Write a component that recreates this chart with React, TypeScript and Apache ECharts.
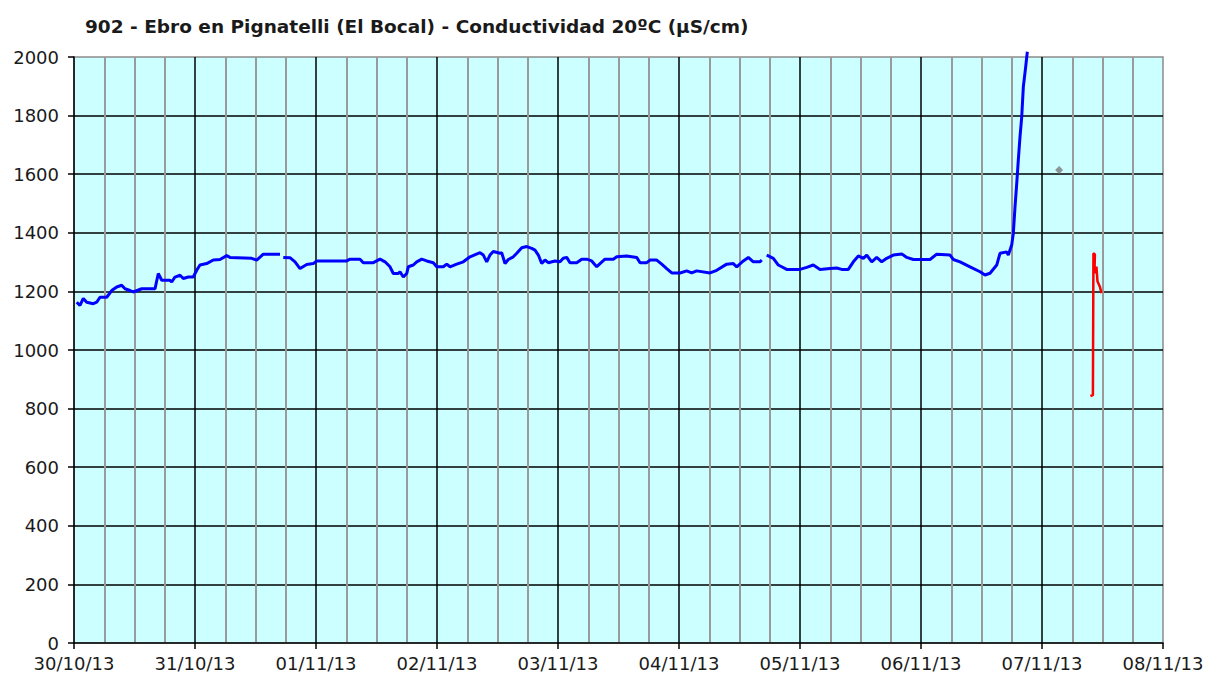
import React, { useEffect, useRef } from "react";
import * as echarts from "echarts";

const titleText = "902 - Ebro en Pignatelli (El Bocal) - Conductividad 20ºC (µS/cm)";
const dayLabels = ["30/10/13", "31/10/13", "01/11/13", "02/11/13", "03/11/13", "04/11/13", "05/11/13", "06/11/13", "07/11/13", "08/11/13"];

// hours since 30/10/13 00:00
const blueHours = [
  0.54, 1.19, 1.84, 2.52, 3.83, 4.5, 5.16, 6.49, 7.48, 8.47, 9.46, 10.12, 11.11, 11.76, 13.43, 16.07, 16.72, 17.4, 19.04, 19.38,
  20.03, 21.03, 21.68, 22.67, 23.66, 24.34, 24.99, 26.32, 27.63, 28.96, 30.29, 30.94, 35.25, 36.24, 37.55, 40.86, 41.2,
  41.51, 42.84, 43.84, 44.83, 46.16, 47.47, 48.15, 54.09, 54.75, 56.73, 57.38, 59.37, 60.7, 61.69, 62.68, 63.33, 64.33, 64.66,
  65.32, 65.99, 66.31, 67.3, 67.98, 68.97, 69.96, 71.27, 71.95, 73.25, 73.93, 74.58, 75.91, 77.22, 78.55, 80.53, 81.19, 81.86,
  82.51, 83.16, 84.5, 84.83, 85.49, 86.15, 87.14, 87.82, 88.81, 89.8, 90.79, 91.44, 92.1, 92.77, 93.42, 94.08, 95.41, 96.4,
  97.05, 97.73, 98.38, 99.71, 100.7, 101.69, 102.68, 103.68, 104.33, 105.32, 106.97, 107.65, 109.63, 111.61, 112.27, 113.6,
  114.25, 115.58, 116.57, 117.56, 118.56, 120.2, 121.53, 122.52, 123.51, 126.15, 127.48, 129.46, 130.77, 131.45, 132.76,
  133.75, 134.74, 136.07, 136.41, 136.9,
  137.4, 138.71, 139.7, 140.37, 141.36, 144.0, 145.33, 146.64, 147.97, 149.95, 151.28, 152.27, 153.58, 154.58, 155.57,
  156.56, 157.24, 158.23, 159.22, 160.21, 161.2, 162.51, 164.18, 165.17, 166.48, 169.79, 171.12, 173.76, 174.41, 175.74,
  177.72, 179.71, 180.7, 181.69, 183.02, 183.67, 185.0, 185.32, 185.99, 186.31, 186.65, 186.99, 187.3, 187.64, 187.98,
  188.3, 188.77, 189.09
];
const blueValues: (number | null)[] = [
  1163, 1152, 1176, 1163, 1158, 1163, 1180, 1180, 1203, 1215, 1221, 1209, 1203, 1198, 1209, 1209, 1261, 1238, 1238, 1232,
  1249, 1255, 1244, 1249, 1249, 1272, 1290, 1295, 1307, 1309, 1322, 1316, 1313, 1307, 1327, 1327, null,
  1316, 1315, 1301, 1278, 1292, 1295, 1304, 1304, 1310, 1310, 1298, 1298, 1310, 1301, 1284, 1261, 1261, 1267,
  1249, 1261, 1284, 1290, 1301, 1310, 1304, 1298, 1284, 1284, 1293, 1284, 1293, 1301, 1318, 1332, 1324, 1301,
  1324, 1336, 1330, 1332, 1295, 1309, 1318, 1330, 1349, 1353, 1347, 1341, 1324, 1295, 1307, 1298, 1304, 1301,
  1313, 1316, 1298, 1298, 1310, 1310, 1304, 1284, 1295, 1310, 1310, 1318, 1321, 1316, 1298, 1298,
  1307, 1307, 1293, 1278, 1263, 1263, 1270, 1263, 1270, 1263, 1272, 1293, 1295, 1284, 1304,
  1316, 1301, 1301, 1307, null,
  1324, 1313, 1290, 1284, 1275, 1275, 1282, 1290, 1275, 1278, 1280, 1275, 1275, 1301, 1321,
  1313, 1324, 1301, 1316, 1301, 1313, 1324, 1328, 1316, 1309, 1309, 1327, 1324, 1309, 1301,
  1284, 1267, 1256, 1262, 1290, 1330, 1335, 1324, 1358, 1398, 1489, 1569, 1648, 1728, 1796,
  1899, 1967, 2018
];

const redHours = [201.6, 202.1, 202.2, 202.5, 202.4, 202.8, 203.0, 203.5, 203.8];
const redValues = [843, 846, 1330, 1326, 1262, 1285, 1235, 1215, 1194];

const grayHours = [195.4];
const grayValues = [1614];

const yMin = 0;
const yMax = 2000;
const yStep = 200;
const xMax = 216;
const xStep = 24;

export default function App() {
  const ref = useRef<HTMLDivElement>(null);
  useEffect(() => {
    if (!ref.current) return;
    const chart = echarts.init(ref.current, null, { renderer: "svg" });
    const font = "DejaVu Sans";
    chart.setOption({
      animation: false,
      backgroundColor: "#ffffff",
      title: {
        text: titleText,
        left: 80,
        top: 12,
        textStyle: { fontFamily: font, fontSize: 18.5, fontWeight: "bold", color: "#1a1a1a" },
      },
      grid: {
        left: 74,
        right: 46,
        top: 57,
        bottom: 37,
        show: true,
        backgroundColor: "#CCFFFF",
        borderColor: "#8c8c8c",
        borderWidth: 1.5,
      },
      xAxis: {
        type: "value",
        min: 0,
        max: xMax,
        interval: xStep,
        axisLine: { show: true, onZero: false, lineStyle: { color: "#000", width: 1.5 } },
        axisTick: { show: true, length: 6, lineStyle: { color: "#000", width: 1.5 } },
        axisLabel: {
          fontFamily: font,
          fontSize: 18,
          color: "#1a1a1a",
          margin: 11,
          showMaxLabel: true,
          showMinLabel: true,
          formatter: (v: number) => dayLabels[Math.round(v / xStep)] ?? "",
        },
        splitLine: { show: true, showMinLine: false, showMaxLine: false, lineStyle: { color: "#000", width: 1.5 } },
        minorTick: { show: false, splitNumber: 4 },
        minorSplitLine: { show: true, lineStyle: { color: "#9a9a9a", width: 2 } },
      },
      yAxis: {
        type: "value",
        min: yMin,
        max: yMax,
        interval: yStep,
        axisLine: { show: true, lineStyle: { color: "#000", width: 1.5 } },
        axisTick: { show: true, length: 6, lineStyle: { color: "#000", width: 1.5 } },
        axisLabel: {
          fontFamily: font,
          fontSize: 18,
          color: "#1a1a1a",
          margin: 15,
          formatter: (v: number) => String(v),
        },
        splitLine: { show: true, showMinLine: false, showMaxLine: false, lineStyle: { color: "#000", width: 1.5 } },
      },
      series: [
        {
          type: "line",
          data: blueHours.map((h, i) => [h, blueValues[i]]),
          showSymbol: false,
          connectNulls: false,
          clip: false,
          lineStyle: { color: "#0000FF", width: 3 },
          itemStyle: { color: "#0000FF" },
          z: 5,
        },
        {
          type: "line",
          data: redHours.map((h, i) => [h, redValues[i]]),
          showSymbol: false,
          lineStyle: { color: "#FF0000", width: 2.5 },
          itemStyle: { color: "#FF0000" },
          z: 5,
        },
        {
          type: "scatter",
          data: grayHours.map((h, i) => [h, grayValues[i]]),
          symbol: "diamond",
          symbolSize: 8,
          itemStyle: { color: "#7a7a7a" },
          z: 6,
        },
      ],
    });
    return () => chart.dispose();
  }, []);
  return <div ref={ref} style={{ position: "fixed", left: 0, top: 0, width: 1209, height: 680 }} />;
}
